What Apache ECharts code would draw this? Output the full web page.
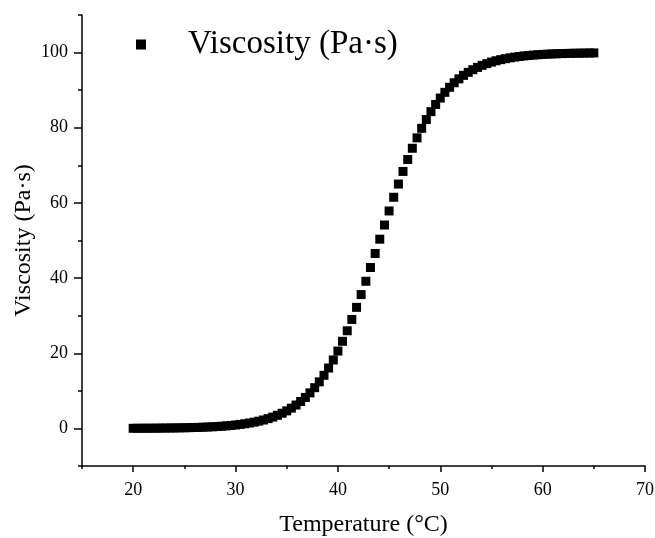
<!DOCTYPE html>
<html>
<head>
<meta charset="utf-8">
<title>Viscosity vs Temperature</title>
<script src="https://cdn.jsdelivr.net/npm/echarts@6/dist/echarts.min.js"></script>
<style>
  html, body { margin: 0; padding: 0; background: #fff; }
  #chart { width: 655px; height: 538px; }
</style>
</head>
<body>
<div id="chart"></div>
<script>
// temperature (°C) of each measured point
const temperature = [
  20.00, 20.45, 20.91, 21.36, 21.82, 22.27, 22.73, 23.18, 23.64, 24.09,
  24.55, 25.00, 25.45, 25.91, 26.36, 26.82, 27.27, 27.73, 28.18, 28.64,
  29.09, 29.55, 30.00, 30.45, 30.91, 31.36, 31.82, 32.27, 32.73, 33.18,
  33.64, 34.09, 34.55, 35.00, 35.45, 35.91, 36.36, 36.82, 37.27, 37.73,
  38.18, 38.64, 39.09, 39.55, 40.00, 40.45, 40.91, 41.36, 41.82, 42.27,
  42.73, 43.18, 43.64, 44.09, 44.55, 45.00, 45.45, 45.91, 46.36, 46.82,
  47.27, 47.73, 48.18, 48.64, 49.09, 49.55, 50.00, 50.45, 50.91, 51.36,
  51.82, 52.27, 52.73, 53.18, 53.64, 54.09, 54.55, 55.00, 55.45, 55.91,
  56.36, 56.82, 57.27, 57.73, 58.18, 58.64, 59.09, 59.55, 60.00, 60.45,
  60.91, 61.36, 61.82, 62.27, 62.73, 63.18, 63.64, 64.09, 64.55, 65.00
];

// viscosity (Pa·s)
const viscosity = [
  0.03, 0.04, 0.05, 0.05, 0.06, 0.07, 0.08, 0.10, 0.11, 0.13,
  0.15, 0.18, 0.20, 0.24, 0.27, 0.32, 0.37, 0.43, 0.50, 0.58,
  0.68, 0.79, 0.92, 1.07, 1.24, 1.44, 1.67, 1.93, 2.24, 2.60,
  3.01, 3.49, 4.04, 4.67, 5.39, 6.22, 7.16, 8.24, 9.46, 10.84,
  12.39, 14.13, 16.07, 18.21, 20.58, 23.18, 25.98, 29.00, 32.21, 35.61,
  39.15, 42.82, 46.55, 50.35, 54.12, 57.86, 61.50, 65.02, 68.38, 71.56,
  74.54, 77.31, 79.85, 82.18, 84.29, 86.20, 87.90, 89.42, 90.77, 91.97,
  93.01, 93.94, 94.74, 95.45, 96.06, 96.60, 97.06, 97.47, 97.82, 98.12,
  98.38, 98.60, 98.79, 98.96, 99.11, 99.23, 99.34, 99.43, 99.51, 99.58,
  99.64, 99.69, 99.73, 99.77, 99.80, 99.83, 99.85, 99.87, 99.89, 99.91
];

// axis ticks
const xMajor = [20, 30, 40, 50, 60, 70];
const xMinor = [15, 25, 35, 45, 55, 65];
const yMajor = [0, 20, 40, 60, 80, 100];
const yMinor = [-10, 10, 30, 50, 70, 90, 110];

const FONT = '"Liberation Serif", "Times New Roman", serif';
const axisColor = '#000';

const chart = echarts.init(document.getElementById('chart'));

const option = {
  backgroundColor: '#fff',
  animation: false,
  grid: { left: 82, right: 10, top: 15, bottom: 72, outerBoundsMode: 'none' },
  legend: {
    left: 131,
    top: 23,
    itemWidth: 10,
    itemHeight: 10,
    icon: 'rect',
    itemStyle: { color: '#000', opacity: 1 },
    textStyle: {
      fontFamily: FONT,
      fontSize: 33,
      color: '#000',
      padding: [0, 0, 0, 37]
    },
    data: ['Viscosity (Pa·s)']
  },
  xAxis: [
    {
      type: 'value',
      min: 15,
      max: 70,
      name: 'Temperature (°C)',
      nameLocation: 'middle',
      nameGap: 47,
      nameTextStyle: { fontFamily: FONT, fontSize: 24, color: '#000' },
      axisLine: { show: true, onZero: false, lineStyle: { color: axisColor, width: 1.5 } },
      axisTick: { show: true, customValues: xMajor, length: 6, lineStyle: { color: axisColor, width: 1.5 } },
      axisLabel: { customValues: xMajor, margin: 15, fontFamily: FONT, fontSize: 18, color: '#000' },
      splitLine: { show: false }
    },
    {
      // minor ticks only
      type: 'value',
      position: 'bottom',
      min: 15,
      max: 70,
      axisLine: { show: false, onZero: false },
      axisTick: { show: true, customValues: xMinor, length: 3, lineStyle: { color: axisColor, width: 1.5 } },
      axisLabel: { show: false },
      splitLine: { show: false }
    }
  ],
  yAxis: [
    {
      type: 'value',
      min: -10,
      max: 110,
      name: 'Viscosity (Pa·s)',
      nameLocation: 'middle',
      nameGap: 46,
      nameMoveOverlap: false,
      nameTextStyle: { fontFamily: FONT, fontSize: 24, color: '#000' },
      axisLine: { show: true, onZero: false, lineStyle: { color: axisColor, width: 1.5 } },
      axisTick: { show: true, customValues: yMajor, length: 8, lineStyle: { color: axisColor, width: 1.5 } },
      axisLabel: { customValues: yMajor, margin: 14, fontFamily: FONT, fontSize: 18, color: '#000' },
      splitLine: { show: false }
    },
    {
      type: 'value',
      position: 'left',
      min: -10,
      max: 110,
      axisLine: { show: false, onZero: false },
      axisTick: { show: true, customValues: yMinor, length: 4, lineStyle: { color: axisColor, width: 1.5 } },
      axisLabel: { show: false },
      splitLine: { show: false }
    }
  ],
  series: [
    {
      name: 'Viscosity (Pa·s)',
      type: 'scatter',
      symbol: 'rect',
      symbolSize: 9,
      itemStyle: { color: '#000', opacity: 1 },
      data: temperature.map((t, i) => [t, viscosity[i]])
    }
  ]
};

chart.setOption(option);
</script>
</body>
</html>
